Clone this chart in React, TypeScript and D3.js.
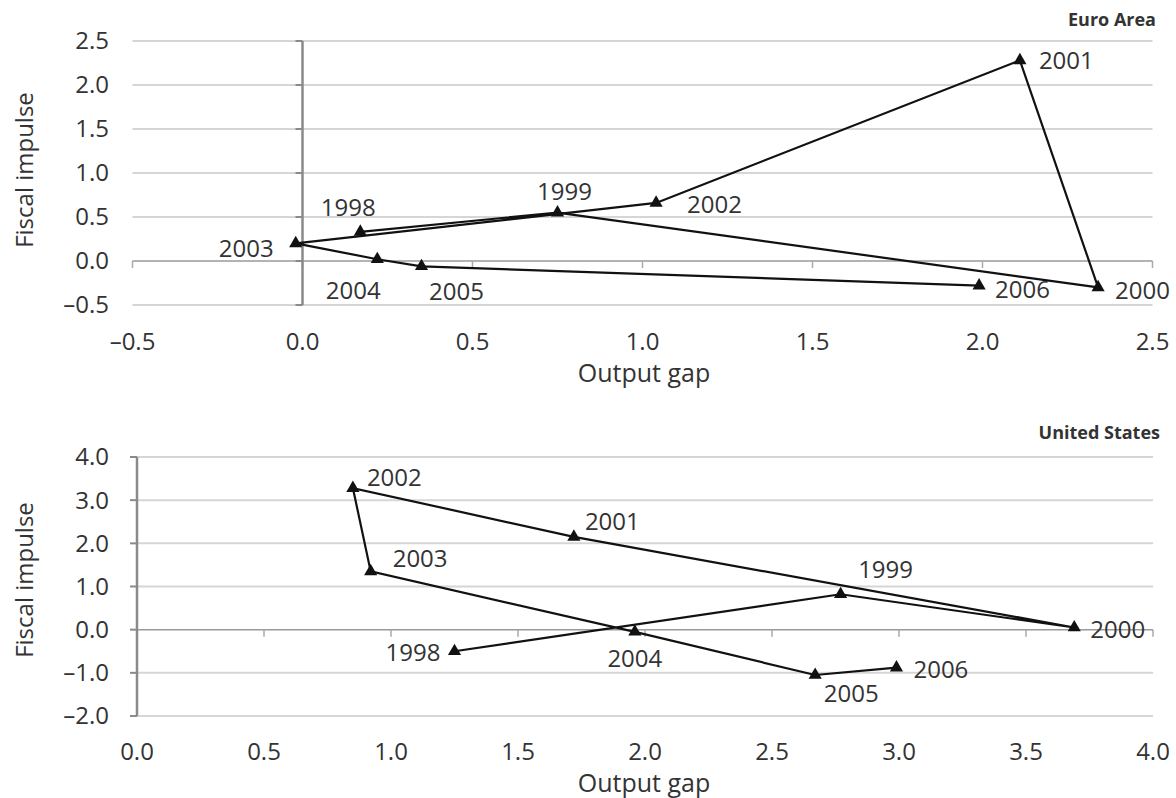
import React, { useEffect, useRef } from "react";
import * as d3 from "d3";

// years in the order they are connected
const years = ["1998", "1999", "2000", "2001", "2002", "2003", "2004", "2005", "2006"];

const euroGap = [0.17, 0.75, 2.34, 2.11, 1.04, -0.02, 0.22, 0.35, 1.99];
const euroImpulse = [0.33, 0.55, -0.3, 2.28, 0.66, 0.2, 0.02, -0.06, -0.28];

const usGap = [1.25, 2.77, 3.69, 1.72, 0.85, 0.92, 1.96, 2.67, 2.99];
const usImpulse = [-0.5, 0.82, 0.05, 2.15, 3.28, 1.35, -0.05, -1.05, -0.88];

const euroXTicks = [-0.5, 0, 0.5, 1, 1.5, 2, 2.5];
const euroYTicks = [-0.5, 0, 0.5, 1, 1.5, 2, 2.5];
const usXTicks = [0, 0.5, 1, 1.5, 2, 2.5, 3, 3.5, 4];
const usYTicks = [-2, -1, 0, 1, 2, 3, 4];

// where each year label sits relative to its marker
const euroLabelPos = [
  [-12, -24, "middle"], [7, -21, "middle"], [17, 3, "start"], [19, 0, "start"], [31, 2, "start"],
  [-22, 5, "end"], [-24, 31, "middle"], [35, 25, "middle"], [16, 4, "start"],
];
const usLabelPos = [
  [-14, 1, "end"], [45, -25, "middle"], [16, 2, "start"], [11, -15, "start"], [14, -10, "start"],
  [22, -13, "start"], [0, 27, "middle"], [36, 19, "middle"], [17, 2, "start"],
];

const font = "'Open Sans', sans-serif";
const ink = "#333";
const fmt = (v: number) => (v < 0 ? "\u2013" + d3.format(".1f")(-v) : d3.format(".1f")(v));

function drawPanel(svg: any, cfg: any) {
  const g = svg.append("g");
  const x = d3.scaleLinear().domain(cfg.xDomain).range(cfg.xRange);
  const y = d3.scaleLinear().domain(cfg.yDomain).range(cfg.yRange);
  const [x0, x1] = cfg.xRange;

  // gridlines
  g.selectAll(".grid").data(cfg.yTicks.filter((d: number) => d !== 0)).enter()
    .append("line")
    .attr("x1", x0).attr("x2", x1)
    .attr("y1", (d: number) => y(d)).attr("y2", (d: number) => y(d))
    .attr("stroke", "#d6d6d6").attr("stroke-width", 2);

  // zero line with ticks
  g.append("line").attr("x1", x0).attr("x2", x1).attr("y1", y(0)).attr("y2", y(0))
    .attr("stroke", "#9a9a9a").attr("stroke-width", 1.5);
  g.selectAll(".xtick").data(cfg.xTicks.filter((d: number) => d !== 0 || cfg.xDomain[0] < 0)).enter()
    .append("line")
    .attr("x1", (d: number) => x(d)).attr("x2", (d: number) => x(d))
    .attr("y1", y(0)).attr("y2", y(0) + 7)
    .attr("stroke", "#aaa").attr("stroke-width", 1.5);

  // vertical axis at x = 0
  g.append("line").attr("x1", x(0)).attr("x2", x(0))
    .attr("y1", y(cfg.yDomain[1])).attr("y2", y(cfg.yDomain[0]))
    .attr("stroke", "#8a8a8a").attr("stroke-width", 2.5);
  g.selectAll(".ytick").data(cfg.yTicks).enter()
    .append("line")
    .attr("x1", x(0) - 7).attr("x2", x(0))
    .attr("y1", (d: number) => y(d)).attr("y2", (d: number) => y(d))
    .attr("stroke", "#8a8a8a").attr("stroke-width", 2);

  // tick labels
  g.selectAll(".ylab").data(cfg.yTicks).enter()
    .append("text")
    .attr("x", 109).attr("y", (d: number) => y(d))
    .attr("dy", "0.35em").attr("text-anchor", "end")
    .attr("font-family", font).attr("font-size", 24).attr("fill", ink)
    .text(fmt);
  g.selectAll(".xlab").data(cfg.xTicks).enter()
    .append("text")
    .attr("x", (d: number) => x(d)).attr("y", cfg.xLabelY)
    .attr("dy", "0.35em").attr("text-anchor", "middle")
    .attr("font-family", font).attr("font-size", 24).attr("fill", ink)
    .text(fmt);

  // axis titles
  g.append("text")
    .attr("transform", `translate(33,${cfg.yTitleY}) rotate(-90)`)
    .attr("text-anchor", "middle")
    .attr("font-family", font).attr("font-size", 24).attr("fill", ink)
    .text("Fiscal impulse");
  g.append("text")
    .attr("x", 644).attr("y", cfg.xTitleY).attr("dy", "0.35em").attr("text-anchor", "middle")
    .attr("font-family", font).attr("font-size", 25).attr("fill", ink)
    .text("Output gap");
  g.append("text")
    .attr("x", cfg.titleX).attr("y", cfg.titleY).attr("dy", "0.35em").attr("text-anchor", "end")
    .attr("font-family", font).attr("font-size", 18).attr("font-weight", "bold").attr("fill", ink)
    .text(cfg.title);

  const pts = years.map((yr, i) => ({ yr, gx: cfg.gap[i], fy: cfg.impulse[i], pos: cfg.labelPos[i] }));

  const line = d3.line<any>().x((d) => x(d.gx)).y((d) => y(d.fy));
  g.append("path").attr("d", line(pts)).attr("fill", "none")
    .attr("stroke", "#111").attr("stroke-width", 2.2).attr("stroke-linejoin", "miter");

  g.selectAll(".mk").data(pts).enter()
    .append("path")
    .attr("d", d3.symbol().type(d3.symbolTriangle).size(75))
    .attr("transform", (d: any) => `translate(${x(d.gx)},${y(d.fy)})`)
    .attr("fill", "#111");

  g.selectAll(".yr").data(pts).enter()
    .append("text")
    .attr("x", (d: any) => x(d.gx) + d.pos[0])
    .attr("y", (d: any) => y(d.fy) + d.pos[1])
    .attr("dy", "0.35em").attr("text-anchor", (d: any) => d.pos[2])
    .attr("font-family", font).attr("font-size", 24).attr("fill", ink)
    .text((d: any) => d.yr);
}

export default function App() {
  const ref = useRef<SVGSVGElement>(null);

  useEffect(() => {
    const svg = d3.select(ref.current);
    svg.selectAll("*").remove();
    svg.append("rect").attr("width", 1176).attr("height", 798).attr("fill", "#fff");

    drawPanel(svg, {
      title: "Euro Area", titleX: 1156, titleY: 20,
      gap: euroGap, impulse: euroImpulse, labelPos: euroLabelPos,
      xDomain: [-0.5, 2.5], xRange: [132.5, 1152.5],
      yDomain: [-0.5, 2.5], yRange: [305, 41],
      xTicks: euroXTicks, yTicks: euroYTicks,
      xLabelY: 342, xTitleY: 373, yTitleY: 170,
    });
    drawPanel(svg, {
      title: "United States", titleX: 1160, titleY: 433,
      gap: usGap, impulse: usImpulse, labelPos: usLabelPos,
      xDomain: [0, 4], xRange: [137, 1153],
      yDomain: [-2, 4], yRange: [716, 457],
      xTicks: usXTicks, yTicks: usYTicks,
      xLabelY: 752, xTitleY: 783, yTitleY: 580,
    });
  }, []);

  return (
    <svg ref={ref} width={1176} height={798}
      style={{ position: "absolute", left: 0, top: 0, display: "block" }} />
  );
}
